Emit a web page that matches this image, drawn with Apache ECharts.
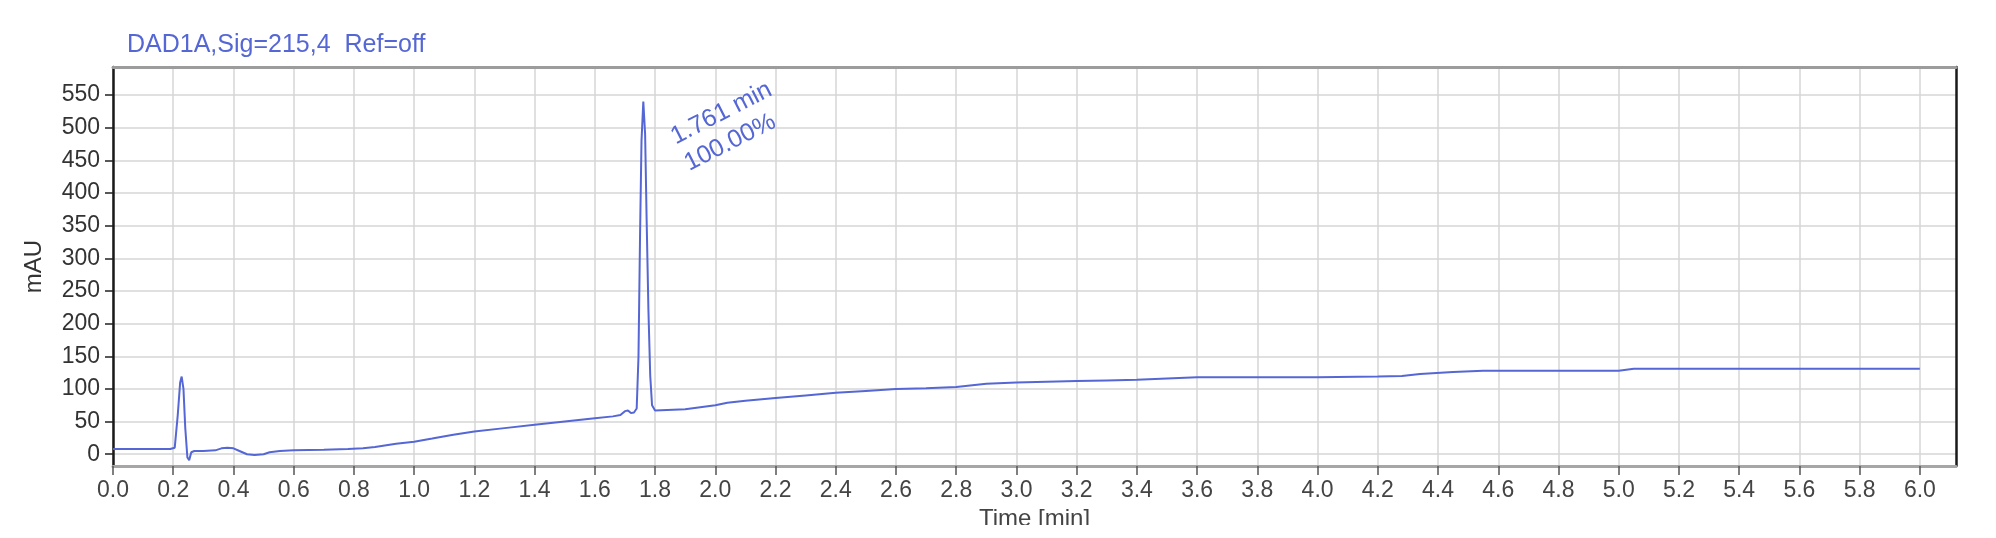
<!DOCTYPE html>
<html>
<head>
<meta charset="utf-8">
<script src="https://cdn.jsdelivr.net/npm/echarts@6/dist/echarts.min.js"></script>
<style>
html,body{margin:0;padding:0;background:#fff;}
#chart{width:1996px;height:538px;}
</style>
</head>
<body>
<div id="chart"></div>
<script>
// ---- data ----
const chartTitle = 'DAD1A,Sig=215,4  Ref=off';
const yAxisName = 'mAU';
const xAxisName = 'Time [min]';
const time = [
  0.00, 0.10, 0.19, 0.205, 0.215, 0.223, 0.228, 0.234, 0.240, 0.247, 0.253, 0.260, 0.270, 0.300,
  0.340, 0.360, 0.380, 0.400, 0.420, 0.445, 0.470, 0.500, 0.520, 0.554, 0.600, 0.700, 0.780,
  0.830, 0.870, 0.940, 1.000, 1.060, 1.130, 1.200, 1.300, 1.400, 1.500, 1.600, 1.660, 1.685,
  1.700, 1.710, 1.720, 1.730, 1.739, 1.745, 1.750, 1.755, 1.761, 1.767, 1.772, 1.778, 1.784,
  1.790, 1.800, 1.900, 2.000, 2.040, 2.100, 2.200, 2.300, 2.400, 2.500, 2.600, 2.700, 2.800,
  2.900, 3.000, 3.100, 3.200, 3.300, 3.400, 3.500, 3.600, 3.800, 4.000, 4.200, 4.280, 4.340,
  4.450, 4.550, 4.600, 4.800, 5.000, 5.050, 5.200, 5.600, 6.000
];
const signal = [
  8, 8, 8, 10, 60, 110, 119, 100, 40, -5, -9, 3, 5, 5,
  6, 9, 10, 9, 5, 0, -1, 0, 3, 5, 6, 7, 8,
  9, 11, 16, 19, 24, 30, 35, 40, 45, 50, 55, 58, 60,
  66, 67, 63, 64, 70, 150, 330, 480, 540, 490, 360, 220, 120,
  75, 67, 69, 75, 79, 82, 86, 90, 94, 97, 100, 101, 103,
  108, 110, 111, 112, 113, 114, 116, 118, 118, 118, 119, 120, 123,
  126, 128, 128, 128, 128, 131, 131, 131, 131
];
const xTicks = [0.0,0.2,0.4,0.6,0.8,1.0,1.2,1.4,1.6,1.8,2.0,2.2,2.4,2.6,2.8,3.0,
                3.2,3.4,3.6,3.8,4.0,4.2,4.4,4.6,4.8,5.0,5.2,5.4,5.6,5.8,6.0];
const yTicks = [0,50,100,150,200,250,300,350,400,450,500,550];
const peakTime = 1.761;
const peakHeight = 540;
const peakLabel = '1.761 min\n100.00%';

const xMin = 0, xMax = 6.12, yMin = -18, yMax = 593;
const blue = '#5567d4';
const font = '"Liberation Sans", Arial, sans-serif';

const chart = echarts.init(document.getElementById('chart'), null, {renderer: 'canvas'});
const points = time.map((t, i) => [t, signal[i]]);

chart.setOption({
  animation: false,
  backgroundColor: '#ffffff',
  title: {
    text: chartTitle,
    left: 122, top: 28,
    textStyle: {fontSize: 25, fontWeight: 'normal', color: blue, fontFamily: font}
  },
  grid: {left: 113, right: 40, top: 67, bottom: 72, show: false},
  xAxis: [{
    type: 'value', min: xMin, max: xMax, position: 'bottom',
    name: xAxisName, nameLocation: 'middle', nameGap: 40,
    nameTextStyle: {fontSize: 24, color: '#444', fontFamily: font},
    axisLine: {show: true, onZero: false, lineStyle: {color: '#a6a6a6', width: 3}},
    axisTick: {show: true, length: 9, customValues: xTicks, lineStyle: {color: '#555', width: 1.5}},
    axisLabel: {customValues: xTicks, margin: 13, fontSize: 23, color: '#444', fontFamily: font,
      formatter: v => Number(v).toFixed(1)},
    splitLine: {show: true, lineStyle: {color: '#d6d6d6', width: 1.5}}
  }, {
    type: 'value', min: xMin, max: xMax, position: 'top',
    axisLine: {show: true, onZero: false, lineStyle: {color: '#9c9c9c', width: 3}},
    axisTick: {show: false}, axisLabel: {show: false}, splitLine: {show: false}
  }],
  yAxis: [{
    type: 'value', min: yMin, max: yMax, position: 'left',
    name: yAxisName, nameLocation: 'middle', nameGap: 67, nameRotate: 90,
    nameTextStyle: {fontSize: 24, color: '#333', fontFamily: font},
    axisLine: {show: true, onZero: false, lineStyle: {color: '#1a1a1a', width: 2.5}},
    axisTick: {show: true, length: 8, customValues: yTicks, lineStyle: {color: '#222', width: 1.5}},
    axisLabel: {customValues: yTicks, margin: 13, fontSize: 23, color: '#333', fontFamily: font},
    splitLine: {show: true, lineStyle: {color: '#d6d6d6', width: 1.5}}
  }, {
    type: 'value', min: yMin, max: yMax, position: 'right',
    axisLine: {show: true, onZero: false, lineStyle: {color: '#1a1a1a', width: 2.5}},
    axisTick: {show: false}, axisLabel: {show: false}, splitLine: {show: false}
  }],
  series: [{
    type: 'line',
    data: points,
    xAxisIndex: 0, yAxisIndex: 0,
    showSymbol: false,
    lineStyle: {color: blue, width: 2},
    itemStyle: {color: blue},
    z: 5
  }]
});

const p = chart.convertToPixel({xAxisIndex: 0, yAxisIndex: 0}, [peakTime, peakHeight]);
chart.setOption({
  graphic: [{
    type: 'text',
    x: p[0] + 36, y: p[1] + 50,
    rotation: 27 * Math.PI / 180,
    style: {
      text: peakLabel, fill: blue, font: '25px ' + font,
      align: 'left', verticalAlign: 'middle', lineHeight: 30
    },
    z: 10
  }, {
    type: 'rect',
    shape: {x: 0, y: 525, width: 1996, height: 13},
    style: {fill: '#ffffff'},
    z: 100
  }]
});
</script>
</body>
</html>
